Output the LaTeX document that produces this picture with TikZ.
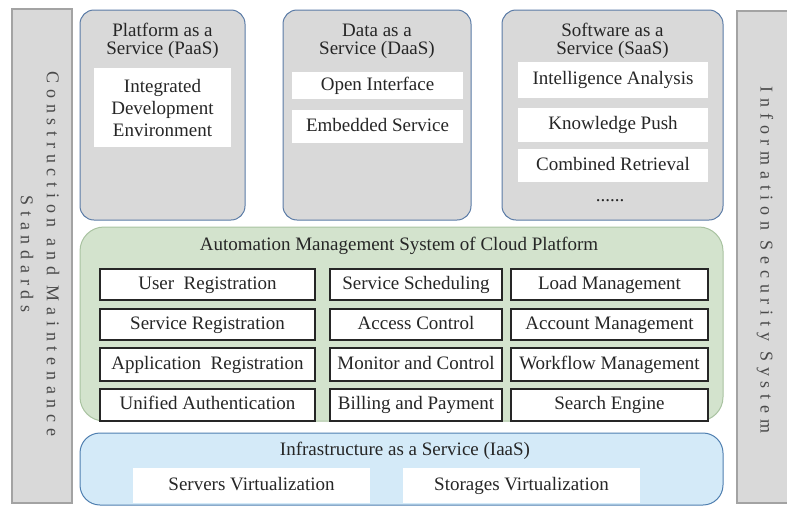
\documentclass[tikz,border=0pt]{standalone}
\usepackage{fontspec}
\setmainfont{Liberation Serif}
\newfontfamily\sidefont[LetterSpace=32]{Liberation Serif}
\definecolor{barfill}{HTML}{D9D9D9}
\definecolor{barline}{HTML}{A3A3A3}
\definecolor{topline}{HTML}{5A7BA6}
\definecolor{greenfill}{HTML}{D3E3CD}
\definecolor{greenline}{HTML}{A9C3A1}
\definecolor{bluefill}{HTML}{D4EAF8}
\definecolor{blueline}{HTML}{4F7FB0}
\definecolor{txt}{HTML}{262626}
\definecolor{sidetxt}{HTML}{4A4A4A}
\begin{document}
\begin{tikzpicture}[x=1pt,y=-1pt,
  every node/.style={text=txt, font=\fontsize{19}{22}\selectfont, inner sep=0pt, outer sep=0pt},
  fixht/.style={text height=13pt, text depth=4pt},
  sidebar/.style={draw=barline, fill=barfill, line width=1.2pt},
  sidetext/.style={rotate=-90, align=center, text=sidetxt, font=\sidefont\fontsize{18}{26}\selectfont},
  toppanel/.style={draw=topline, fill=barfill, line width=1pt, rounded corners=14pt},
  greenpanel/.style={draw=greenline, fill=greenfill, line width=1pt, rounded corners=24pt},
  bluepanel/.style={draw=blueline, fill=bluefill, line width=1pt, rounded corners=20pt},
  wbox/.style={fill=white, anchor=north west, align=center},
  gbox/.style={draw=txt, fill=white, line width=1.4pt, anchor=north west, minimum height=31pt, fixht},
  title/.style={align=center, font=\fontsize{19}{18}\selectfont}
]
\useasboundingbox (0,0) rectangle (787,509);
\clip (0,0) rectangle (787,509);
% side bars
\draw[sidebar] (12,9) rectangle (72,503);
\node[sidetext] (cms) at (40,254) {Construction and Maintenance\\Standards};
\draw[sidebar] (737,11) rectangle (792,503);
\node[sidetext] (iss) at (765,260) {Information Security System};
% top panels
\draw[toppanel] (80,10) rectangle (245,220);
\node[title] (paas) at (162.5,41) {Platform as a\\Service (PaaS)};
\node[wbox, minimum width=137pt, minimum height=79pt] (ide) at (94,68) {Integrated\\Development\\Environment};
\draw[toppanel] (283,10) rectangle (471,220);
\node[title] (daas) at (377,41) {Data as a\\Service (DaaS)};
\node[wbox, fixht, minimum width=171pt, minimum height=27pt] (oi) at (292,72) {Open Interface};
\node[wbox, fixht, minimum width=171pt, minimum height=33pt] (es) at (292,110) {Embedded Service};
\draw[toppanel] (502,10) rectangle (723,220);
\node[title] (saas) at (612.5,41) {Software as a\\Service (SaaS)};
\node[wbox, fixht, minimum width=190pt, minimum height=36pt] (ia) at (518,62) {Intelligence Analysis};
\node[wbox, fixht, minimum width=190pt, minimum height=34pt] (kp) at (518,108) {Knowledge Push};
\node[wbox, fixht, minimum width=190pt, minimum height=33pt] (cr) at (518,149) {Combined Retrieval};
\node (dots) at (610,201) {......};
% automation panel
\draw[greenpanel] (80,227) rectangle (723,421);
\node (ams) at (399,246) {Automation Management System of Cloud Platform};
\node[gbox, minimum width=215pt] (ur) at (100,269) {User\ \ Registration};
\node[gbox, minimum width=172pt] (ss) at (330,269) {Service Scheduling};
\node[gbox, minimum width=197pt] (lm) at (511,269) {Load Management};
\node[gbox, minimum width=215pt] (sr) at (100,309) {Service Registration};
\node[gbox, minimum width=172pt] (ac) at (330,309) {Access Control};
\node[gbox, minimum width=197pt] (am) at (511,309) {Account Management};
\node[gbox, minimum width=215pt, minimum height=33pt] (ar) at (100,348) {Application\ \ Registration};
\node[gbox, minimum width=172pt, minimum height=33pt] (mc) at (330,348) {Monitor and Control};
\node[gbox, minimum width=197pt, minimum height=33pt] (wm) at (511,348) {Workflow Management};
\node[gbox, minimum width=215pt, minimum height=32pt] (ua) at (100,389) {Unified Authentication};
\node[gbox, minimum width=172pt, minimum height=32pt] (bp) at (330,389) {Billing and Payment};
\node[gbox, minimum width=197pt, minimum height=32pt] (se) at (511,389) {Search Engine};
% infrastructure panel
\draw[bluepanel] (80,433) rectangle (723,505);
\node (iaas) at (405,451) {Infrastructure as a Service (IaaS)};
\node[wbox, fixht, minimum width=237pt, minimum height=35pt] (sv) at (133,468) {Servers Virtualization};
\node[wbox, fixht, minimum width=237pt, minimum height=35pt] (stv) at (403,468) {Storages Virtualization};
\end{tikzpicture}
\end{document}
